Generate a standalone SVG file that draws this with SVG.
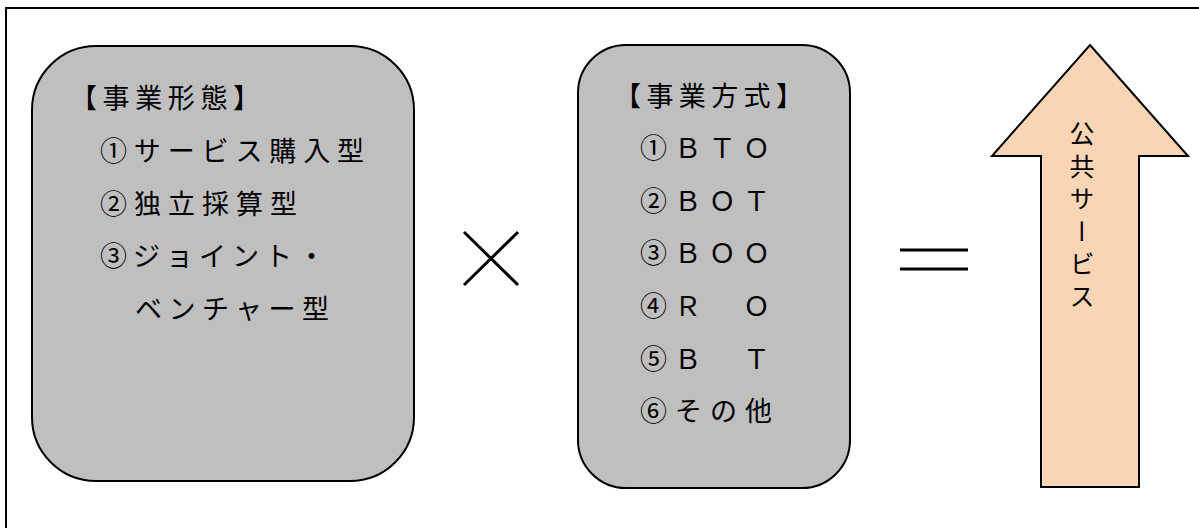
<svg xmlns="http://www.w3.org/2000/svg" width="1199" height="528" viewBox="0 0 1199 528">
<style>
.box{fill:#bfbfbf;stroke:#000;stroke-width:2}
.t{font-family:"Noto Sans CJK JP","Noto Sans CJK SC",sans-serif;font-size:27px;font-weight:400;fill:#000}
.sym{stroke:#000;stroke-width:3;fill:none}
</style>
<rect x="6" y="8" width="1200" height="530" fill="#fff" stroke="#000" stroke-width="2"/>
<g id="node-keitai">
<rect class="box" x="32" y="46" width="382" height="435" rx="64" ry="64"/>
<text class="t" x="70" y="108" textLength="190" lengthAdjust="spacing">【事業形態】</text>
<text class="t" x="100" y="161" textLength="264" lengthAdjust="spacing">①サービス購入型</text>
<text class="t" x="100" y="214" textLength="197" lengthAdjust="spacing">②独立採算型</text>
<text class="t" x="100" y="266" textLength="225" lengthAdjust="spacing">③ジョイント・</text>
<text class="t" x="135" y="319" textLength="194" lengthAdjust="spacing">ベンチャー型</text>
</g>
<g id="node-times">
<path class="sym" d="M464 232 L518 285 M518 232 L464 285"/>
</g>
<g id="node-houshiki">
<rect class="box" x="578" y="45" width="272" height="443" rx="48" ry="48"/>
<text class="t" x="614" y="106" textLength="189" lengthAdjust="spacing">【事業方式】</text>
<text class="t" x="640" y="158" textLength="130" lengthAdjust="spacing">①ＢＴＯ</text>
<text class="t" x="640" y="211" textLength="130" lengthAdjust="spacing">②ＢＯＴ</text>
<text class="t" x="640" y="263" textLength="130" lengthAdjust="spacing">③ＢＯＯ</text>
<text class="t" x="640" y="316" textLength="130" lengthAdjust="spacing">④Ｒ　Ｏ</text>
<text class="t" x="640" y="369" textLength="130" lengthAdjust="spacing">⑤Ｂ　Ｔ</text>
<text class="t" x="640" y="421" textLength="132" lengthAdjust="spacing">⑥その他</text>
</g>
<g id="node-equals">
<path class="sym" d="M900 250 H968 M900 269 H968"/>
</g>
<g id="node-arrow">
<polygon points="1090,45 1188,156 1139,156 1139,487 1041,487 1041,156 992,156" fill="#f9d5b5" stroke="#000" stroke-width="2"/>
<text class="t" x="1082" y="121" writing-mode="vertical-rl" style="font-size:25px;letter-spacing:7.5px">公共サービス</text>
</g>
<g id="connectors"></g>
</svg>
